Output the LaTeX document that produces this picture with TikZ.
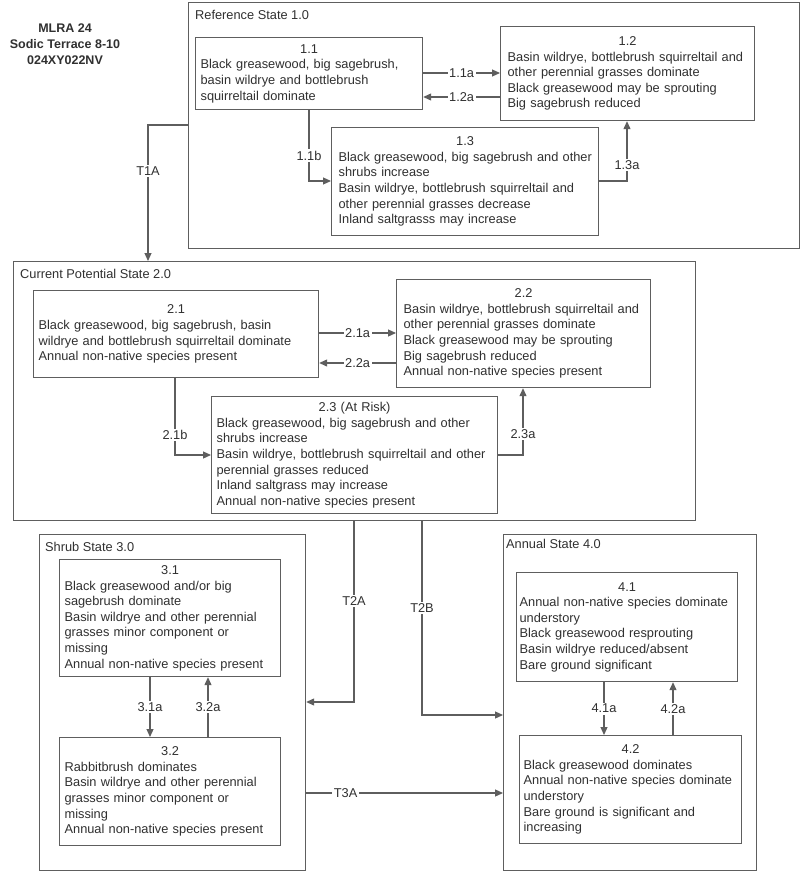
\documentclass[tikz,border=0pt]{standalone}
\usepackage{fontspec}
\setmainfont{Liberation Sans}
\usetikzlibrary{arrows.meta}
\definecolor{txt}{HTML}{303030}
\definecolor{ln}{HTML}{5E5E5E}
\tikzset{
  stbox/.style={draw=ln, line width=1.2pt, anchor=north west, inner ysep=0pt, align=left, text=txt, font=\fontsize{12.8}{15.6}\selectfont},
  cont/.style={draw=ln, line width=1.2pt, anchor=north west, inner sep=0pt},
  clabel/.style={anchor=base west, inner sep=0pt, text=txt, font=\fontsize{12.8}{15.6}\selectfont},
  ttl/.style={anchor=north, inner sep=0pt, align=center, text=txt, font=\fontsize{12.5}{16}\selectfont\bfseries},
  conn/.style={draw=ln, line width=1.2pt, -{Triangle[length=8pt,width=7pt]}},
  lbl/.style={fill=white, inner sep=1.5pt, text=txt, font=\fontsize{12.8}{15.6}\selectfont}
}
\begin{document}
\begin{tikzpicture}[x=1pt,y=-1pt]
\useasboundingbox (0,0) rectangle (800,872);
\fill[white] (0,0) rectangle (800,872);

% title
\node[ttl] (title) at (65,24) {MLRA 24\\Sodic Terrace 8-10\\024XY022NV};

% containers
\node[cont, minimum width=611pt, minimum height=246pt] (ref) at (188,2) {};
\node[cont, minimum width=682pt, minimum height=259pt] (cur) at (13,261) {};
\node[cont, minimum width=266pt, minimum height=336pt] (shrub) at (39,534) {};
\node[cont, minimum width=253pt, minimum height=336pt] (ann) at (503,534) {};

\node[clabel] (refl) at (195,20) {Reference State 1.0};
\node[clabel] (curl) at (20,278) {Current Potential State 2.0};
\node[clabel] (shrubl) at (45,551) {Shrub State 3.0};
\node[clabel] (annl) at (506,548) {Annual State 4.0};

% state boxes
\node[stbox, inner xsep=5pt, text width=217pt, minimum height=72pt] (b11) at (195,37)
  {\hfill 1.1\hfill\null\\Black greasewood, big sagebrush,\\basin wildrye and bottlebrush\\squirreltail dominate};
\node[stbox, inner xsep=7pt, text width=240pt, minimum height=94pt] (b12) at (500,26)
  {\hfill 1.2\hfill\null\\Basin wildrye, bottlebrush squirreltail and\\other perennial grasses dominate\\Black greasewood may be sprouting\\Big sagebrush reduced};
\node[stbox, inner xsep=5pt, text width=257pt, minimum height=108pt] (b13) at (331,127)
  {\hfill 1.3\hfill\null\\\hspace*{2pt}Black greasewood, big sagebrush and other\\\hspace*{2pt}shrubs increase\\\hspace*{2pt}Basin wildrye, bottlebrush squirreltail and\\\hspace*{2pt}other perennial grasses decrease\\\hspace*{2pt}Inland saltgrasss may increase};

\node[stbox, inner xsep=5pt, text width=275pt, minimum height=87pt] (b21) at (33,290)
  {\hfill 2.1\hfill\null\\Black greasewood, big sagebrush, basin\\wildrye and bottlebrush squirreltail dominate\\Annual non-native species present};
\node[stbox, inner xsep=7pt, text width=240pt, minimum height=108pt] (b22) at (396,279)
  {\hfill 2.2\hfill\null\\Basin wildrye, bottlebrush squirreltail and\\other perennial grasses dominate\\Black greasewood may be sprouting\\Big sagebrush reduced\\Annual non-native species present};
\node[stbox, inner xsep=5pt, text width=276pt, minimum height=117pt] (b23) at (211,396)
  {\hfill 2.3 (At Risk)\hfill\null\\Black greasewood, big sagebrush and other\\shrubs increase\\Basin wildrye, bottlebrush squirreltail and other\\perennial grasses reduced\\Inland saltgrass may increase\\Annual non-native species present};

\node[stbox, inner xsep=5pt, text width=211pt, minimum height=117pt] (b31) at (59,559)
  {\hfill 3.1\hfill\null\\Black greasewood and/or big\\sagebrush dominate\\Basin wildrye and other perennial\\grasses minor component or\\missing\\Annual non-native species present};
\node[stbox, inner xsep=5pt, text width=211pt, minimum height=108pt] (b32) at (59,737)
  {\hfill 3.2\hfill\null\\Rabbitbrush dominates\\Basin wildrye and other perennial\\grasses minor component or\\missing\\Annual non-native species present};

\node[stbox, inner xsep=3pt, text width=215pt, minimum height=109pt] (b41) at (516,572)
  {\hfill 4.1\hfill\null\\Annual non-native species dominate\\understory\\Black greasewood resprouting\\Basin wildrye reduced/absent\\Bare ground significant};
\node[stbox, inner xsep=4pt, text width=214pt, minimum height=108pt] (b42) at (519,735)
  {\hfill 4.2\hfill\null\\Black greasewood dominates\\Annual non-native species dominate\\understory\\Bare ground is significant and\\increasing};

% connectors
\draw[conn] (b11.east |- 0,73) -- node[lbl]{1.1a} (b12.west |- 0,73);
\draw[conn] (b12.west |- 0,97) -- node[lbl]{1.2a} (b11.east |- 0,97);
\draw[conn] (b11.south -| 309,0) |- node[lbl,pos=0.32]{1.1b} (b13.west |- 0,181);
\draw[conn] (b13.east |- 0,181) -| node[lbl,pos=0.63]{1.3a} (b12.south -| 627,0);
\draw[conn] (ref.west |- 0,125) -| node[lbl,pos=0.67]{T1A} (cur.north -| 148,0);

\draw[conn] (b21.east |- 0,333) -- node[lbl]{2.1a} (b22.west |- 0,333);
\draw[conn] (b22.west |- 0,363) -- node[lbl]{2.2a} (b21.east |- 0,363);
\draw[conn] (b21.south -| 175,0) |- node[lbl,pos=0.37]{2.1b} (b23.west |- 0,455);
\draw[conn] (b23.east |- 0,455) -| node[lbl,pos=0.66]{2.3a} (b22.south -| 523,0);

\draw[conn] (cur.south -| 354,0) |- node[lbl,pos=0.22]{T2A} (shrub.east |- 0,702);
\draw[conn] (cur.south -| 422,0) |- node[lbl,pos=0.225]{T2B} (ann.west |- 0,715);
\draw[conn] (shrub.east |- 0,793) -- node[lbl,pos=0.2]{T3A} (ann.west |- 0,793);

\draw[conn] (b31.south -| 150,0) -- node[lbl]{3.1a} (b32.north -| 150,0);
\draw[conn] (b32.north -| 208,0) -- node[lbl]{3.2a} (b31.south -| 208,0);
\draw[conn] (b41.south -| 604,0) -- node[lbl]{4.1a} (b42.north -| 604,0);
\draw[conn] (b42.north -| 673,0) -- node[lbl]{4.2a} (b41.south -| 673,0);
\end{tikzpicture}
\end{document}
